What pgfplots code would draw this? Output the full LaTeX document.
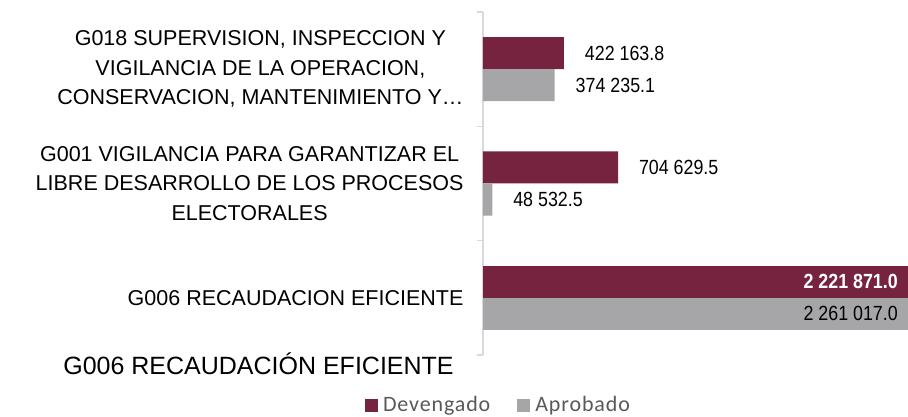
\documentclass[border=0pt]{standalone}
\usepackage{fontspec}
\setmainfont{Liberation Sans}
\newfontfamily\valfont[FakeStretch=0.87]{Liberation Sans}
\newfontfamily\legfont[LetterSpace=4]{Carlito}
\usepackage{pgfplots}
\pgfplotsset{compat=1.18}
\usetikzlibrary{calc}
\definecolor{devcol}{RGB}{117,35,62}
\definecolor{aprcol}{RGB}{166,166,168}
\definecolor{axcol}{RGB}{217,217,217}
\definecolor{legtext}{RGB}{89,89,89}
\begin{document}
\begin{tikzpicture}
\begin{axis}[name=ax, scale only axis, width=425pt, height=343pt,
  xbar, xmin=0, xmax=2218000, ymin=-0.5, ymax=2.5, clip=false,
  axis y line=left, axis x line=none, xtick=\empty,
  y axis line style={-, draw=axcol, line width=1.3pt},
  ytick={0,1,2},
  yticklabels={{G006 RECAUDACION EFICIENTE},{G001 VIGILANCIA PARA GARANTIZAR EL\\LIBRE DESARROLLO DE LOS PROCESOS\\ELECTORALES},{G018 SUPERVISION, INSPECCION Y\\VIGILANCIA DE LA OPERACION,\\CONSERVACION, MANTENIMIENTO Y…}},
  yticklabel style={font=\fontsize{21.5}{29.5}\selectfont, align=center, xshift=-16pt},
  major tick length=0pt, minor tick length=6pt,
  minor ytick={-0.5,0.5,1.5,2.5}, tick align=outside,
  ytick style={draw=axcol, line width=1.3pt},
  legend columns=2,
  legend image code/.code={\fill[#1] (0pt,-6.5pt) rectangle (13pt,6.5pt);},
  legend style={at={(axis description cs:0.04,-0.146)}, anchor=center, draw=none, fill=none,
    font=\legfont\fontsize{22}{26}\selectfont, text=legtext,
    nodes={inner xsep=5pt},
    /tikz/every even column/.append style={column sep=22pt}},
]
\addplot[forget plot, fill=devcol, draw=none, bar width=0.28, bar shift=0.14,
  nodes near coords, point meta=explicit symbolic,
  every node near coord/.append style={anchor=west, xshift=17.5pt, font=\valfont\fontsize{20.5}{24}\selectfont, text=black}]
  coordinates {(422163.8,2) [422 163.8] (704629.5,1) [704 629.5]};
\addplot[forget plot, fill=aprcol, draw=none, bar width=0.28, bar shift=-0.14,
  nodes near coords, point meta=explicit symbolic,
  every node near coord/.append style={anchor=west, xshift=17.5pt, font=\valfont\fontsize{20.5}{24}\selectfont, text=black}]
  coordinates {(374235.1,2) [374 235.1] (48532.5,1) [48 532.5]};
\addplot[forget plot, fill=devcol, draw=none, bar width=0.28, bar shift=0.14,
  nodes near coords, point meta=explicit symbolic,
  every node near coord/.append style={anchor=east, xshift=-7.4pt, font=\valfont\bfseries\fontsize{20.5}{24}\selectfont, text=white}]
  coordinates {(2221871.0,0) [2 221 871.0]};
\addplot[forget plot, fill=aprcol, draw=none, bar width=0.28, bar shift=-0.14,
  nodes near coords, point meta=explicit symbolic,
  every node near coord/.append style={anchor=east, xshift=-14.9pt, font=\valfont\fontsize{20.5}{24}\selectfont, text=black}]
  coordinates {(2261017.0,0) [2 261 017.0]};
\addlegendimage{fill=devcol, draw=none}
\addlegendentry{Devengado}
\addlegendimage{fill=aprcol, draw=none}
\addlegendentry{Aprobado}
\end{axis}
\node[anchor=base, font=\fontsize{25}{30}\selectfont] at ($(ax.south west)+(-224.5pt,-20pt)$) {G006 RECAUDACIÓN EFICIENTE};
\pgfresetboundingbox
\path ($(ax.south west)+(-483pt,-62pt)$) rectangle ($(ax.north east)+(0pt,12pt)$);
\end{tikzpicture}
\end{document}
